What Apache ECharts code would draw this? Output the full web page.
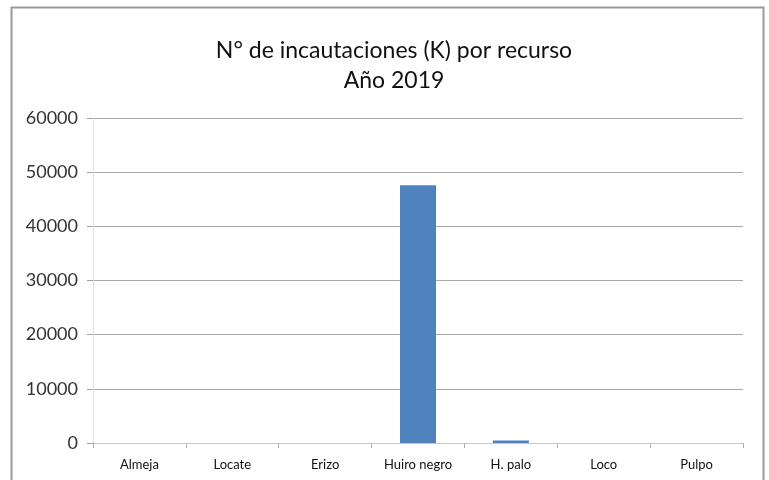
<!DOCTYPE html>
<html>
<head>
<meta charset="utf-8">
<script src="https://cdn.jsdelivr.net/npm/echarts@6/dist/echarts.min.js"></script>
<style>
  html, body { margin: 0; padding: 0; background: #fff; }
  #chart { width: 769px; height: 480px; }
</style>
</head>
<body>
<div id="chart"></div>
<script>
// datos
const categorias = ['Almeja', 'Locate', 'Erizo', 'Huiro negro', 'H. palo', 'Loco', 'Pulpo'];
const incautaciones = [0, 0, 0, 47600, 450, 0, 0];
const titulo = 'N° de incautaciones (K) por recurso\nAño 2019';

const chart = echarts.init(document.getElementById('chart'));
chart.setOption({
    animation: false,
    backgroundColor: '#fff',
    textStyle: { fontFamily: 'Lato' },
    title: {
        text: titulo,
        left: 389,
        textAlign: 'center',
        top: 31,
        textStyle: {
            fontFamily: 'Lato',
            fontSize: 23,
            fontWeight: 'normal',
            color: '#111',
            lineHeight: 30
        }
    },
    // marco exterior
    graphic: [{
        type: 'rect',
        shape: { x: 11.5, y: 7.5, width: 752, height: 490 },
        style: { fill: 'none', stroke: '#9a9a9a', lineWidth: 2 },
        silent: true
    }],
    grid: {
        left: 93,
        right: 26,
        top: 118,
        bottom: 37
    },
    xAxis: {
        type: 'category',
        data: categorias,
        axisLine: { lineStyle: { color: '#c8c8c8', width: 1 } },
        axisTick: { show: true, length: 5, lineStyle: { color: '#b0b0b0' } },
        axisLabel: { color: '#111', fontSize: 13, margin: 15, interval: 0 }
    },
    yAxis: {
        type: 'value',
        min: 0,
        max: 60000,
        interval: 10000,
        axisLine: { show: true, lineStyle: { color: '#e4e4e4' } },
        axisTick: { show: true, length: 6, lineStyle: { color: '#a0a0a0' } },
        axisLabel: { color: '#333', fontSize: 18, margin: 15, formatter: v => String(v) },
        splitLine: { lineStyle: { color: '#a8a8a8', width: 1 } }
    },
    series: [{
        type: 'bar',
        data: incautaciones,
        barWidth: 36,
        itemStyle: { color: '#4f81bd' }
    }]
});
</script>
</body>
</html>
